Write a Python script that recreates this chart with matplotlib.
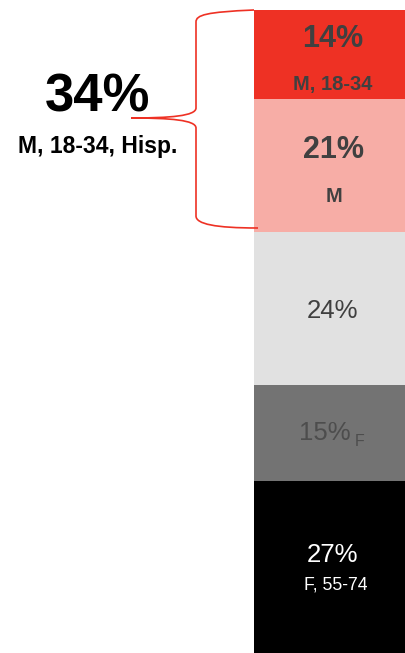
import matplotlib
matplotlib.use("Agg")
import matplotlib.pyplot as plt
from matplotlib.path import Path
from matplotlib.patches import PathPatch

# ---- data ----
values = [14, 21, 24, 15, 27]
sublabels = ["M, 18-34", "M", "", "F", "F, 55-74"]
colors = ["#EE3124", "#F7ADA6", "#E1E1E1", "#737373", "#000000"]
brace_value = 34
brace_label = "M, 18-34, Hisp."

W, H = 405, 653
fig = plt.figure(figsize=(W / 100, H / 100), dpi=100)
plt.rcParams["font.family"] = ["Liberation Sans", "DejaVu Sans"]

# ---- stacked bar ----
total = sum(values)
top_px = 9.5
pad = total * top_px / (H - top_px)
axb = fig.add_axes([254 / W, 0, (W - 254) / W, 1])
bottom = 0
for v, c in zip(values, colors):
    axb.bar(0, v, bottom=bottom, width=1, color=c, edgecolor="none")
    bottom += v
axb.set_xlim(-0.5, 0.5)
axb.set_ylim(total, -pad)
axb.axis("off")

# ---- overlay for text and brace (pixel coordinates) ----
ax = fig.add_axes([0, 0, 1, 1], facecolor="none")
ax.set_xlim(0, W)
ax.set_ylim(H, 0)
ax.axis("off")

dark = "#404040"
# segment 1
ax.text(333, 47, f"{values[0]}%", ha="center", va="baseline", fontsize=22, fontweight="bold", color=dark)
ax.text(333, 90, sublabels[0], ha="center", va="baseline", fontsize=14.5, fontweight="bold", color=dark)
# segment 2
ax.text(333, 158, f"{values[1]}%", ha="center", va="baseline", fontsize=22, fontweight="bold", color=dark)
ax.text(334, 202, sublabels[1], ha="center", va="baseline", fontsize=14.5, fontweight="bold", color=dark)
# segment 3
ax.text(333, 318, f"{values[2]}%", ha="center", va="baseline", fontsize=18.5, color=dark)
# segment 4
ax.text(325, 440, f"{values[3]}%", ha="center", va="baseline", fontsize=18.5, color="#4D4D4D")
ax.text(360, 446, sublabels[3], ha="center", va="baseline", fontsize=11.5, color="#4D4D4D")
# segment 5
ax.text(333, 562, f"{values[4]}%", ha="center", va="baseline", fontsize=18.5, color="white")
ax.text(336, 589, sublabels[4], ha="center", va="baseline", fontsize=12.7, color="white")

# brace label
ax.text(98, 112, f"{brace_value}%", ha="center", va="baseline", fontsize=38, fontweight="bold", color="black")
ax.text(97.5, 153, brace_label, ha="center", va="baseline", fontsize=16.5, fontweight="bold", color="black")

# brace
verts = [
    (254, 10), (206, 12), (196, 15), (196, 22),
    (196, 108),
    (196, 116), (170, 118), (131, 118),
    (170, 118), (196, 120), (196, 128),
    (196, 216),
    (196, 224), (215, 228), (258, 228),
]
codes = [Path.MOVETO, Path.CURVE4, Path.CURVE4, Path.CURVE4,
         Path.LINETO,
         Path.CURVE4, Path.CURVE4, Path.CURVE4,
         Path.CURVE4, Path.CURVE4, Path.CURVE4,
         Path.LINETO,
         Path.CURVE4, Path.CURVE4, Path.CURVE4]
ax.add_patch(PathPatch(Path(verts, codes), facecolor="none", edgecolor="#EE3124", lw=1.2, zorder=5))

fig.savefig("out.png", dpi=100)
